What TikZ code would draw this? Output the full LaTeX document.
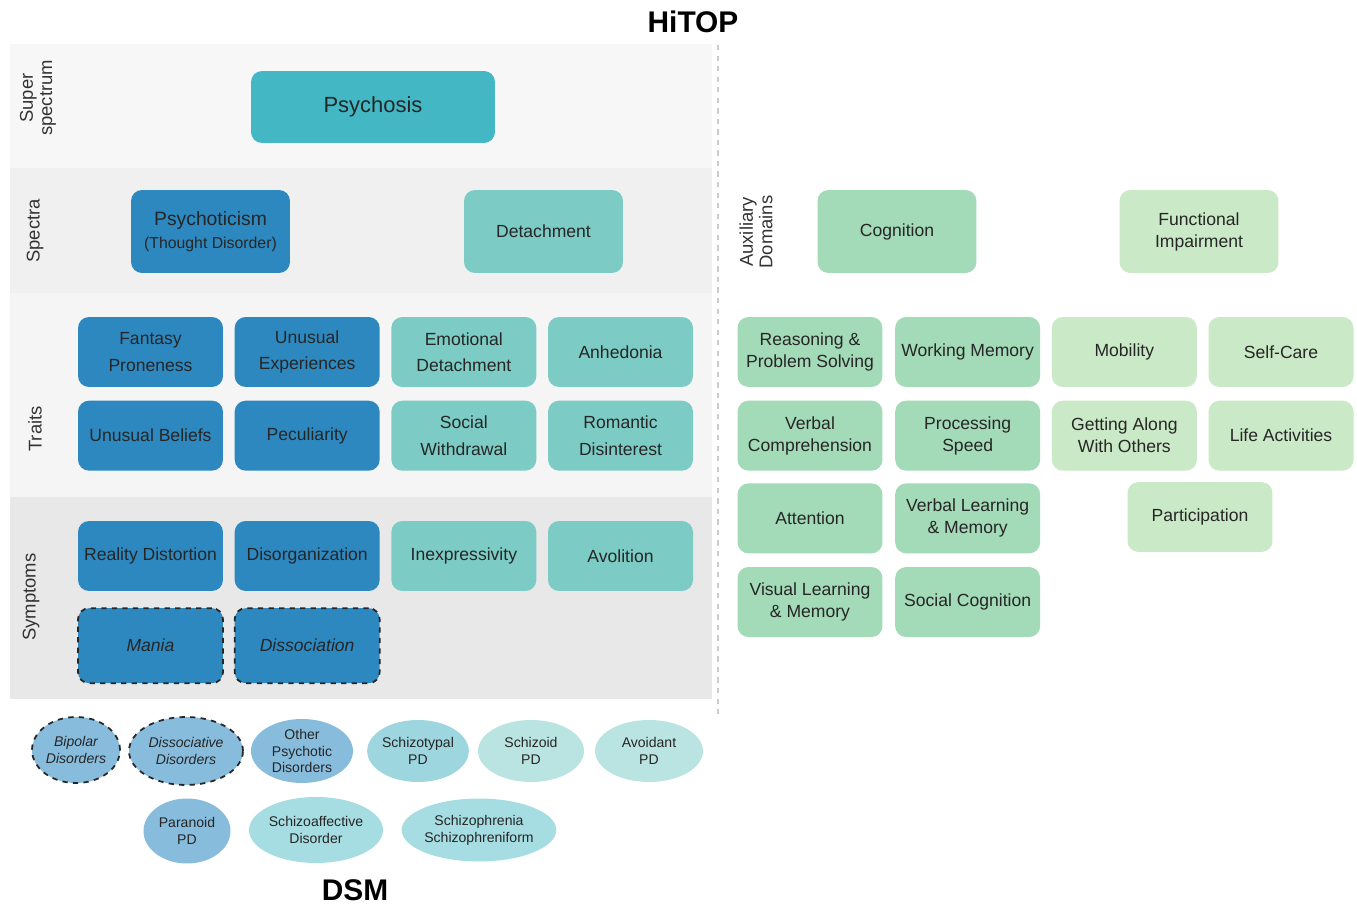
\documentclass[tikz,border=0pt]{standalone}
\usepackage{fontspec}
\setmainfont{Liberation Sans}
\usetikzlibrary{positioning,shapes.geometric}

\definecolor{blueD}{RGB}{45,136,192}
\definecolor{tealM}{RGB}{67,184,196}
\definecolor{tealL}{RGB}{124,203,196}
\definecolor{greenD}{RGB}{163,218,183}
\definecolor{greenL}{RGB}{202,233,198}
\definecolor{ovBlue}{RGB}{136,188,221}
\definecolor{ovTeal}{RGB}{157,214,223}
\definecolor{ovCyan}{RGB}{165,221,226}
\definecolor{ovPale}{RGB}{186,228,226}

\begin{document}
\begin{tikzpicture}[
  x=0.02cm, y=-0.02cm,
  node distance=0.26cm and 0.22cm,
  box/.style={rounded corners=0.22cm, minimum width=2.9cm, minimum height=1.4cm, align=center, inner sep=2pt, text=black!85, font=\fontsize{10}{15}\selectfont},
  psy/.style={box, fill=blueD},
  det/.style={box, fill=tealL},
  symx/.style={psy, draw=black!85, dashed, line width=1pt, minimum height=1.5cm, font=\itshape\fontsize{10}{15}\selectfont},
  cogn/.style={box, fill=greenD, font=\fontsize{10}{12.5}\selectfont},
  func/.style={box, fill=greenL, font=\fontsize{10}{12.5}\selectfont},
  spec/.style={box, minimum width=3.18cm, minimum height=1.66cm},
  dsm/.style={ellipse, inner sep=0pt, align=center, text=black!85, font=\fontsize{8}{9.6}\selectfont},
  dsmx/.style={dsm, draw=black!85, dashed, line width=1pt, font=\itshape\fontsize{8}{9.6}\selectfont},
  lvl/.style={rotate=90, align=center, text=black!80, font=\fontsize{10.5}{11}\selectfont},
  title/.style={font=\bfseries\fontsize{17}{20}\selectfont}
]

\useasboundingbox (0,0) rectangle (1357,908);
\fill[white] (0,0) rectangle (1357,908);

\fill[black!3] (10,44) rectangle (712,168);
\fill[black!6] (10,168) rectangle (712,293);
\fill[black!4] (10,293) rectangle (712,497);
\fill[black!9] (10,497) rectangle (712,699);
\draw[black!20, dashed, line width=1pt] (718,45) -- (718,715);

\node[title] (hitop) at (693,22) {HiTOP};
\node[title] (dsmt) at (355,890) {DSM};

\node[lvl] (lsup) at (38,98) {Super\\spectrum};
\node[lvl] (lspe) at (35,231) {Spectra};
\node[lvl] (ltra) at (35,429) {Traits};
\node[lvl] (lsym) at (31,597) {Symptoms};
\node[lvl] (laux) at (756,232) {Auxiliary\\Domains};

\node[box, fill=tealM, minimum width=4.88cm, minimum height=1.44cm, font=\fontsize{12.5}{15}\selectfont] (psychosis) at (373,107) {Psychosis};

\node[spec, fill=blueD, font=\fontsize{11}{13}\selectfont] (psyt) at (210.5,231.5) {Psychoticism\\{\fontsize{9}{11}\selectfont(Thought Disorder)}};
\node[spec, fill=tealL] (det) at (543.5,231.5) {Detachment};
\node[spec, fill=greenD] (cog) at (897,231.5) {Cognition};
\node[spec, fill=greenL, font=\fontsize{10}{12.5}\selectfont] (fi) at (1199,231.5) {Functional\\Impairment};

\node[psy] (fp) at (150.5,352) {Fantasy\\Proneness};
\node[psy, right=of fp] (ue) {Unusual\\Experiences};
\node[det, right=of ue] (ed) {Emotional\\Detachment};
\node[det, right=of ed] (anh) {Anhedonia};
\node[psy, below=of fp] (ub) {Unusual Beliefs};
\node[psy, below=of ue] (pec) {Peculiarity};
\node[det, below=of ed] (sw) {Social\\Withdrawal};
\node[det, below=of anh] (rdi) {Romantic\\Disinterest};

\node[psy] (rd) at (150.5,556) {Reality Distortion};
\node[psy, right=of rd] (dis) {Disorganization};
\node[det, right=of dis] (inx) {Inexpressivity};
\node[det, right=of inx] (avo) {Avolition};
\node[symx, below=0.32cm of rd] (man) {Mania};
\node[symx, below=0.32cm of dis] (dso) {Dissociation};

\node[cogn] (rps) at (810,352) {Reasoning \&\\Problem Solving};
\node[cogn, right=0.24cm of rps] (wm) {Working Memory};
\node[func, right=of wm] (mob) {Mobility};
\node[func, right=of mob] (sc) {Self-Care};
\node[cogn, below=of rps] (vc) {Verbal\\Comprehension};
\node[cogn, below=of wm] (ps) {Processing\\Speed};
\node[func, below=of mob] (gao) {Getting Along\\With Others};
\node[func, below=of sc] (la) {Life Activities};
\node[cogn, below=0.24cm of vc] (att) {Attention};
\node[cogn, below=0.24cm of ps] (vlm) {Verbal Learning\\\& Memory};
\node[func] (par) at (1200,517) {Participation};
\node[cogn, below=of att] (vis) {Visual Learning\\\& Memory};
\node[cogn, below=of vlm] (soc) {Social Cognition};

\node[dsmx, fill=ovBlue, minimum width=1.76cm, minimum height=1.32cm] (bip) at (76,750) {Bipolar\\Disorders};
\node[dsmx, fill=ovBlue, minimum width=2.28cm, minimum height=1.36cm] (dsd) at (186,751) {Dissociative\\Disorders};
\node[dsm, fill=ovBlue, minimum width=2.04cm, minimum height=1.28cm] (opd) at (302,751) {Other\\Psychotic\\Disorders};
\node[dsm, fill=ovTeal, minimum width=2.0cm, minimum height=1.24cm] (stp) at (418,751) {Schizotypal\\PD};
\node[dsm, fill=ovPale, minimum width=2.12cm, minimum height=1.24cm] (szd) at (531,751) {Schizoid\\PD};
\node[dsm, fill=ovPale, minimum width=2.16cm, minimum height=1.24cm] (avd) at (649,751) {Avoidant\\PD};
\node[dsm, fill=ovBlue, minimum width=1.74cm, minimum height=1.3cm] (par2) at (187,831) {Paranoid\\PD};
\node[dsm, fill=ovCyan, minimum width=2.68cm, minimum height=1.32cm] (sad) at (316,830) {Schizoaffective\\Disorder};
\node[dsm, fill=ovCyan, minimum width=3.04cm, minimum height=1.26cm] (szp) at (479,830) {Schizophrenia\\Schizophreniform};

\end{tikzpicture}
\end{document}
